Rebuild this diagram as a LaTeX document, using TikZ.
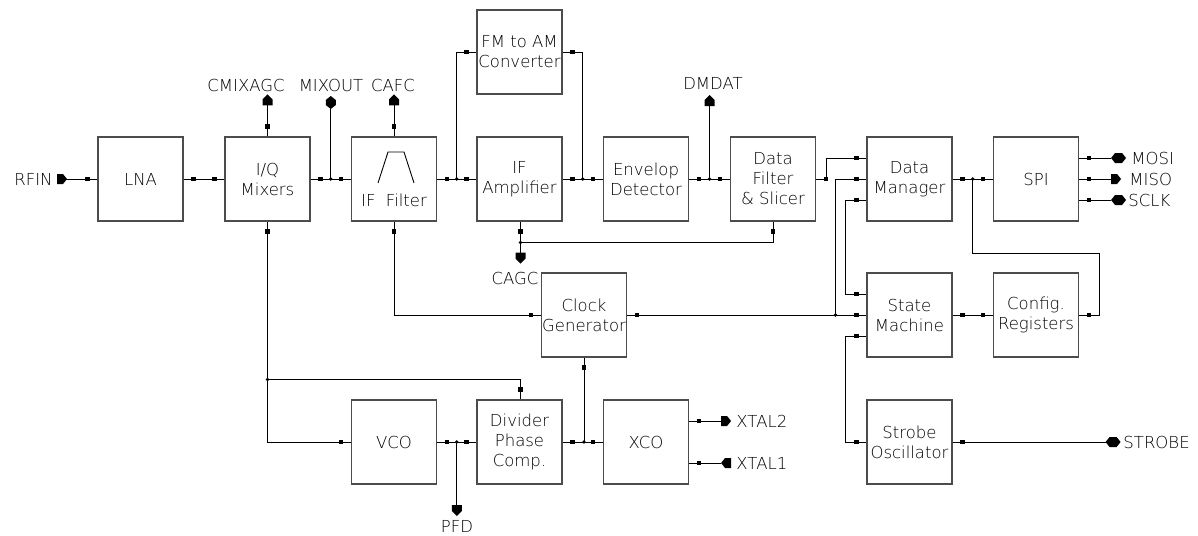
\documentclass[tikz,border=0pt]{standalone}
\usepackage{fontspec}
\IfFontExistsTF{DejaVu Sans ExtraLight}{\setmainfont{DejaVu Sans ExtraLight}}{\setmainfont{DejaVu Sans}}
\usetikzlibrary{calc}
\newcommand{\sqd}[1]{\fill[black] (#1) ++(-2.4,-2.4) rectangle ++(4.8,4.8);}
\newcommand{\jdot}[1]{\fill[black] (#1) circle (1.9);}
\tikzset{
  prt/.pic={\fill (0,-5) -- (6,-5) -- (10,0) -- (6,5) -- (0,5) -- cycle;},
  plt/.pic={\fill (0,0) -- (4,-5) -- (10,-5) -- (10,5) -- (4,5) -- cycle;},
  pup/.pic={\fill (-5,0) -- (-5,-6) -- (0,-11) -- (5,-6) -- (5,0) -- cycle;},
  pdn/.pic={\fill (-5,0) -- (5,0) -- (5,6) -- (0,11) -- (-5,6) -- cycle;},
  phx/.pic={\fill (0,0) -- (4,-5) -- (11,-5) -- (15,0) -- (11,5) -- (4,5) -- cycle;},
  pvx/.pic={\fill (0,0) -- (-5,-4) -- (-5,-9) -- (0,-13) -- (5,-9) -- (5,-4) -- cycle;}
}
\begin{document}
\begin{tikzpicture}[x=1pt,y=-1pt,
  font=\fontsize{16.5}{20}\selectfont,
  line width=0.9pt,
  blk/.style={draw=black!70, line width=1.1pt, minimum width=85pt, minimum height=84pt,
              align=center, inner sep=0pt},
  lbl/.style={inner sep=0pt}]
\useasboundingbox (0,0) rectangle (1198,535);

% ---------- blocks ----------
\node[blk] (lna) at (140.5,179) {LNA};
\node[blk] (mix) at (267.5,179) {I/Q\\Mixers};
\node[blk] (iff) at (394,179) {};
\node[lbl] (ifft) at (394,200) {IF\ \ Filter};
\node[blk] (ifa) at (519.5,179) {IF\\Amplifier};
\node[blk] (fm)  at (519.5,52) {FM to AM\\Converter};
\node[blk] (env) at (646,179) {Envelop\\Detector};
\node[blk] (dfs) at (773,179) {Data\\Filter\\\&\ Slicer};
\node[blk] (dm)  at (909.5,179) {Data\\Manager};
\node[blk] (spi) at (1036,179) {SPI};
\node[blk] (clk) at (584,315) {Clock\\Generator};
\node[blk] (sm)  at (909.5,315) {State\\Machine};
\node[blk] (cfg) at (1036,315) {Config.\\Registers};
\node[blk] (vco) at (394,442) {VCO};
\node[blk] (div) at (519.5,442) {Divider\\Phase\\Comp.};
\node[blk] (xco) at (646,442) {XCO};
\node[blk] (str) at (909.5,442) {Strobe\\Oscillator};

% filter symbol
\draw ($(iff.center)+(-16,4)$) -- ($(iff.center)+(-6,-27)$) -- ($(iff.center)+(10,-27)$) -- ($(iff.center)+(20,4)$);

% ---------- RFIN ----------
\coordinate (prfin) at (57,179);
\draw (prfin) -- (lna.west);
\sqd{$(lna.west)+(-10,0)$}
\pic at (prfin) {prt};
\node[lbl, anchor=east] (trfin) at (53,179) {RFIN};

% LNA -> mixers
\draw (lna.east) -- (mix.west);
\sqd{$(lna.east)+(10,0)$} \sqd{$(mix.west)+(-10,0)$}

% CMIXAGC
\coordinate (pcmix) at ($(mix.north)+(0,-31)$);
\draw (mix.north) -- (pcmix);
\sqd{$(mix.north)+(0,-10)$}
\pic at (pcmix) {pup};
\node[lbl] (tcmix) at (246,85) {CMIXAGC};

% mixers -> IF filter, MIXOUT
\coordinate (jmix) at ($(mix.east)!0.5!(iff.west)$);
\coordinate (pmix) at ($(jmix)+(0,-70)$);
\draw (mix.east) -- (iff.west);
\draw (jmix) -- (pmix);
\sqd{$(mix.east)+(10,0)$} \sqd{$(iff.west)+(-10,0)$} \jdot{jmix}
\pic at (pmix) {pvx};
\node[lbl] (tmixout) at (331,85) {MIXOUT};

% CAFC
\coordinate (pcafc) at ($(iff.north)+(0,-31)$);
\draw (iff.north) -- (pcafc);
\sqd{$(iff.north)+(0,-10)$}
\pic at (pcafc) {pup};
\node[lbl] (tcafc) at (393,85) {CAFC};

% IF filter -> IF amp, FM converter
\coordinate (jifa) at ($(iff.east)!0.5!(ifa.west)$);
\coordinate (jamp) at ($(ifa.east)!0.5!(env.west)$);
\draw (iff.east) -- (ifa.west);
\draw (jifa) |- (fm.west);
\draw (fm.east) -| (jamp);
\draw (ifa.east) -- (env.west);
\sqd{$(iff.east)+(10,0)$} \sqd{$(ifa.west)+(-10,0)$} \jdot{jifa}
\sqd{$(fm.west)+(-10,0)$} \sqd{$(fm.east)+(10,0)$}
\sqd{$(ifa.east)+(10,0)$} \sqd{$(env.west)+(-10,0)$} \jdot{jamp}

% envelope -> data filter, DMDAT
\coordinate (jenv) at ($(env.east)!0.5!(dfs.west)$);
\coordinate (pdm) at ($(jenv)+(0,-73)$);
\draw (env.east) -- (dfs.west);
\draw (jenv) -- (pdm);
\sqd{$(env.east)+(10,0)$} \sqd{$(dfs.west)+(-10,0)$} \jdot{jenv}
\pic at (pdm) {pup};
\node[lbl] (tdmdat) at (713,83) {DMDAT};

% CAGC
\coordinate (jagc) at ($(ifa.south)+(1,21)$);
\coordinate (pagc) at ($(jagc)+(0,10)$);
\draw ($(ifa.south)+(1,0)$) -- (pagc);
\draw (dfs.south) |- (jagc);
\sqd{$(ifa.south)+(1,10)$} \sqd{$(dfs.south)+(0,10)$} \jdot{jagc}
\pic at (pagc) {pdn};
\node[lbl] (tcagc) at (515,278) {CAGC};

% data filter -> data manager
\draw (dfs.east) -- ++(10,0) |- ($(dm.west)+(0,-21)$);
\sqd{$(dfs.east)+(10,0)$} \sqd{$(dm.west)+(-10,-21)$}

% clock generator -> state machine, data manager
\coordinate (jclk) at ($(sm.west)+(-31,0)$);
\draw (clk.east) -- (sm.west);
\draw (jclk) |- (dm.west);
\sqd{$(clk.east)+(10,0)$} \sqd{$(sm.west)+(-10,0)$} \sqd{$(dm.west)+(-10,0)$} \jdot{jclk}

% data manager -> state machine
\draw ($(dm.west)+(0,21)$) -- ++(-21,0) |- ($(sm.west)+(0,-21)$);
\sqd{$(dm.west)+(-10,21)$} \sqd{$(sm.west)+(-10,-21)$}

% state machine -> strobe oscillator
\draw ($(sm.west)+(0,21)$) -- ++(-21,0) |- (str.west);
\sqd{$(sm.west)+(-10,21)$} \sqd{$(str.west)+(-10,0)$}

% STROBE
\coordinate (pstr) at ($(str.east)+(153,0)$);
\draw (str.east) -- (pstr);
\sqd{$(str.east)+(10,0)$}
\pic at (pstr) {phx};
\node[lbl, anchor=west] (tstr) at (1123,442) {STROBE};

% data manager -> SPI, config registers
\coordinate (jdm) at ($(dm.east)!0.5!(spi.west)$);
\draw (dm.east) -- (spi.west);
\draw (jdm) |- ($(cfg.east)+(20,-62)$) |- (cfg.east);
\sqd{$(dm.east)+(10,0)$} \sqd{$(spi.west)+(-10,0)$} \jdot{jdm}
\sqd{$(cfg.east)+(10,0)$}

% state machine -> config registers
\draw (sm.east) -- (cfg.west);
\sqd{$(sm.east)+(10,0)$} \sqd{$(cfg.west)+(-10,0)$}

% SPI pins
\coordinate (pmosi) at ($(spi.east)+(32,-21)$);
\coordinate (pmiso) at ($(spi.east)+(32,0)$);
\coordinate (psclk) at ($(spi.east)+(32,21)$);
\draw ($(spi.east)+(0,-21)$) -- (pmosi);
\draw (spi.east) -- (pmiso);
\draw ($(spi.east)+(0,21)$) -- (psclk);
\sqd{$(spi.east)+(10,-21)$} \sqd{$(spi.east)+(10,0)$} \sqd{$(spi.east)+(10,21)$}
\pic at (pmosi) {phx};
\pic at (pmiso) {prt};
\pic at (psclk) {phx};
\node[lbl, anchor=west] (tmosi) at (1131,158) {MOSI};
\node[lbl, anchor=west] (tmiso) at (1129,179) {MISO};
\node[lbl, anchor=west] (tsclk) at (1128,200) {SCLK};

% IF filter -> clock generator
\draw (iff.south) |- (clk.west);
\sqd{$(iff.south)+(0,10)$} \sqd{$(clk.west)+(-10,0)$}

% clock generator <- divider/XCO
\coordinate (jdiv) at ($(div.east)!0.5!(xco.west)$);
\draw (div.east) -- (xco.west);
\draw (clk.south) -- (clk.south |- jdiv);
\sqd{$(clk.south)+(0,10)$} \sqd{$(div.east)+(10,0)$} \sqd{$(xco.west)+(-10,0)$} \jdot{clk.south |- jdiv}

% mixers -> VCO, divider
\coordinate (jlo) at ($(mix.south)+(0,158)$);
\draw (mix.south) -- (jlo) |- (vco.west);
\draw (jlo) -| ($(div.north)+(1,0)$);
\sqd{$(mix.south)+(0,10)$} \sqd{$(vco.west)+(-10,0)$} \sqd{$(div.north)+(1,-10)$} \jdot{jlo}

% VCO -> divider, PFD
\coordinate (jvco) at ($(vco.east)!0.5!(div.west)$);
\coordinate (ppfd) at ($(jvco)+(0,63)$);
\draw (vco.east) -- (div.west);
\draw (jvco) -- (ppfd);
\sqd{$(vco.east)+(10,0)$} \sqd{$(div.west)+(-10,0)$} \jdot{jvco}
\pic at (ppfd) {pdn};
\node[lbl, anchor=base] (tpfd) at (457,532) {PFD};

% XCO pins
\coordinate (px2) at ($(xco.east)+(32,-21)$);
\coordinate (px1) at ($(xco.east)+(32,21)$);
\draw ($(xco.east)+(0,-21)$) -- (px2);
\draw ($(xco.east)+(0,21)$) -- (px1);
\sqd{$(xco.east)+(10,-21)$} \sqd{$(xco.east)+(10,21)$}
\pic at (px2) {prt};
\pic at (px1) {plt};
\node[lbl, anchor=west] (tx2) at (736,421) {XTAL2};
\node[lbl, anchor=west] (tx1) at (736,463) {XTAL1};
\end{tikzpicture}
\end{document}
